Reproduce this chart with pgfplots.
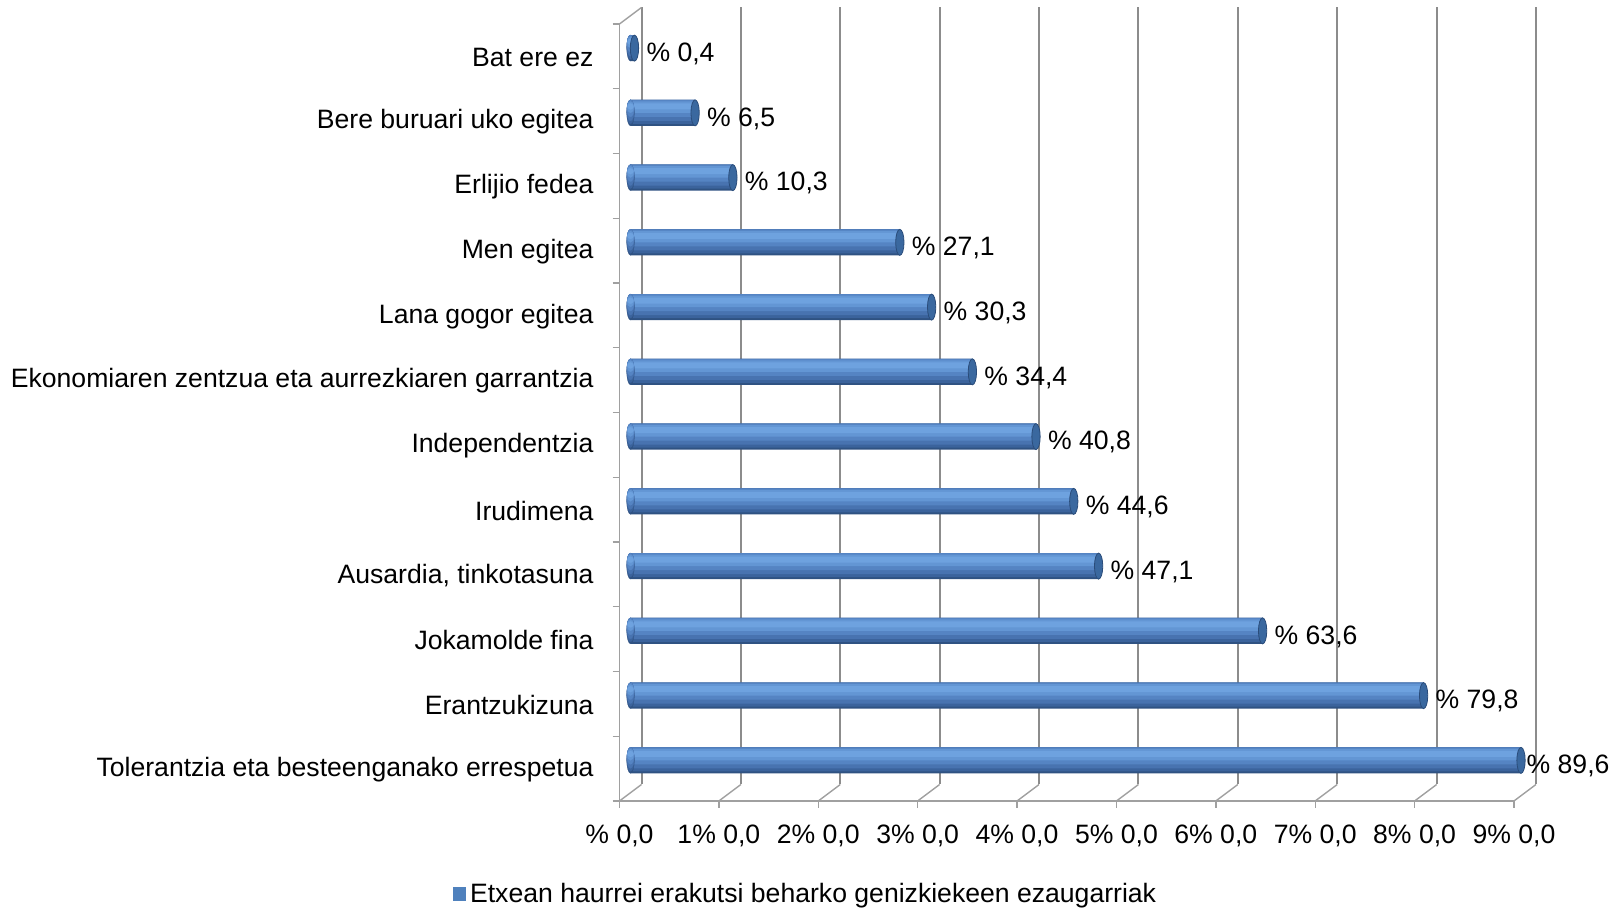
\documentclass[border=0pt]{standalone}
\usepackage{fontspec}
\setmainfont{Liberation Sans}
\usepackage{pgfplots}
\usepackage{pgfplotstable}
\pgfplotsset{compat=1.18}
\definecolor{barBlue}{HTML}{4F81BD}
\definecolor{capFill}{HTML}{3A689F}
\definecolor{capDraw}{HTML}{2A4C7A}
\definecolor{gridgray}{HTML}{8C8C8C}
\definecolor{axisgray}{HTML}{A0A0A0}
\definecolor{c1}{HTML}{2F5282}
\definecolor{c2}{HTML}{3B639C}
\definecolor{c3}{HTML}{4873B0}
\definecolor{c4}{HTML}{5584C3}
\definecolor{c5}{HTML}{6396D4}
\definecolor{c6}{HTML}{6EA2DF}

\pgfplotstableread{
v i dx
89.6 0 -3.2
79.8 1 0
63.6 2 0
47.1 3 0
44.6 4 0
40.8 5 0
34.4 6 0
30.3 7 0
27.1 8 0
10.3 9 0
6.5 10 0
0.4 11 0
}\bardata

\pgfplotsset{
  common/.style={
    width=447.25pt, height=388.5pt, scale only axis,
    xmin=0, xmax=90,
  },
  layer/.style n args={3}{forget plot, xbar, bar width=#1, bar shift=#2, fill=#3, draw=none},
  endcap/.style n args={4}{forget plot, only marks, color=#3, mark=*, mark size=#1,
    mark options={xscale=#4, yshift=#2, draw=#3, fill=#3, line width=0.1pt}},
}
\newcommand{\fs}{\fontsize{13.3}{16}\selectfont}
\begin{document}
\begin{tikzpicture}[font=\fs]
\useasboundingbox (0,0) rectangle (805.5pt,454pt);
% back plane with grid lines
\begin{axis}[common, at={(320.75pt,61.75pt)}, anchor=south west,
  ymin=0, ymax=1, ytick=\empty,
  xtick={0,10,20,30,40,50,60,70,80,90}, xticklabels={},
  xmajorgrids, major grid style={draw=gridgray, line width=1pt},
  axis line style={draw=none}, major tick length=0pt]
\end{axis}
% front axis
\begin{axis}[common, at={(309.75pt,53.5pt)}, anchor=south west,
  ymin=-0.5, ymax=11.5, clip=false,
  axis x line*=bottom, axis y line*=left,
  axis line style={draw=axisgray, line width=0.7pt},
  tick style={draw=axisgray, line width=0.7pt},
  tick align=outside, major tick length=3.5pt,
  xtick={0,10,20,30,40,50,60,70,80,90},
  xticklabels={{\% 0,0},{1\% 0,0},{2\% 0,0},{3\% 0,0},{4\% 0,0},{5\% 0,0},{6\% 0,0},{7\% 0,0},{8\% 0,0},{9\% 0,0}},
  xticklabel style={yshift=-5pt},
  ytick={-0.5,0.5,1.5,2.5,3.5,4.5,5.5,6.5,7.5,8.5,9.5,10.5,11.5},
  y tick label as interval,
  yticklabels={{Tolerantzia eta besteenganako errespetua},{Erantzukizuna},{Jokamolde fina},{Ausardia, tinkotasuna},{Irudimena},{Independentzia},{Ekonomiaren zentzua eta aurrezkiaren garrantzia},{Lana gogor egitea},{Men egitea},{Erlijio fedea},{Bere buruari uko egitea},{Bat ere ez}},
  yticklabel style={xshift=-6pt, yshift=-0.5pt},
  ticklabel style={font=\fs},
]
\pgfplotsinvokeforeach{0,10,...,90}{
  \draw[axisgray, line width=0.7pt] (axis cs:#1,-0.5) -- ++(11pt,8.25pt);
}
\draw[axisgray, line width=0.7pt] (axis cs:0,11.5) -- ++(11pt,8.25pt);
\end{axis}
% bars in the middle plane
\begin{axis}[common, at={(315.25pt,57.625pt)}, anchor=south west,
  ymin=-0.5, ymax=11.5, hide axis, clip=false,
  legend style={at={(0.1968,-0.1303)}, anchor=center, draw=none, fill=none,
    font=\fs, inner sep=0pt},
]
\addlegendimage{legend image code/.code={\fill[barBlue] (0pt,-3.1pt) rectangle (6.2pt,3.1pt);}}
\addlegendentry{Etxean haurrei erakutsi beharko genizkiekeen ezaugarriak}
% cylinder body and rounded left end, built from layers
\addplot[endcap={6.5pt}{0pt}{c1}{0.29}] table[x expr=0, y=i] {\bardata};
\addplot[layer={13pt}{0pt}{c1},
  point meta=x,
  visualization depends on={\thisrow{dx} \as \labdx},
  nodes near coords={\% \pgfmathprintnumber[fixed, fixed zerofill, precision=1, use comma, assume math mode=true]{\pgfplotspointmeta}},
  every node near coord/.append style={anchor=base west, xshift=2.5pt, yshift=-6.65pt, xshift=\labdx pt, black, font=\fs},
] table[x=v, y=i] {\bardata};
\addplot[endcap={6pt}{0.5pt}{c2}{0.31}] table[x expr=0, y=i] {\bardata};
\addplot[layer={12pt}{0.5pt}{c2}] table[x=v, y=i] {\bardata};
\addplot[endcap={5.25pt}{1.25pt}{c3}{0.35}] table[x expr=0, y=i] {\bardata};
\addplot[layer={10.5pt}{1.25pt}{c3}] table[x=v, y=i] {\bardata};
\addplot[endcap={4.25pt}{2.25pt}{c4}{0.42}] table[x expr=0, y=i] {\bardata};
\addplot[layer={8.5pt}{2.25pt}{c4}] table[x=v, y=i] {\bardata};
\addplot[endcap={2.85pt}{2.85pt}{c5}{0.6}] table[x expr=0, y=i] {\bardata};
\addplot[layer={5.7pt}{2.85pt}{c5}] table[x=v, y=i] {\bardata};
\addplot[endcap={1.5pt}{3.2pt}{c6}{1.0}] table[x expr=0, y=i] {\bardata};
\addplot[layer={3pt}{3.2pt}{c6}] table[x=v, y=i] {\bardata};
% end caps
\addplot[forget plot, only marks, mark=*, mark size=6.5pt,
  mark options={xscale=0.32, fill=capFill, draw=capDraw, line width=0.4pt}]
  table[x=v, y=i] {\bardata};
\end{axis}
\end{tikzpicture}
\end{document}
